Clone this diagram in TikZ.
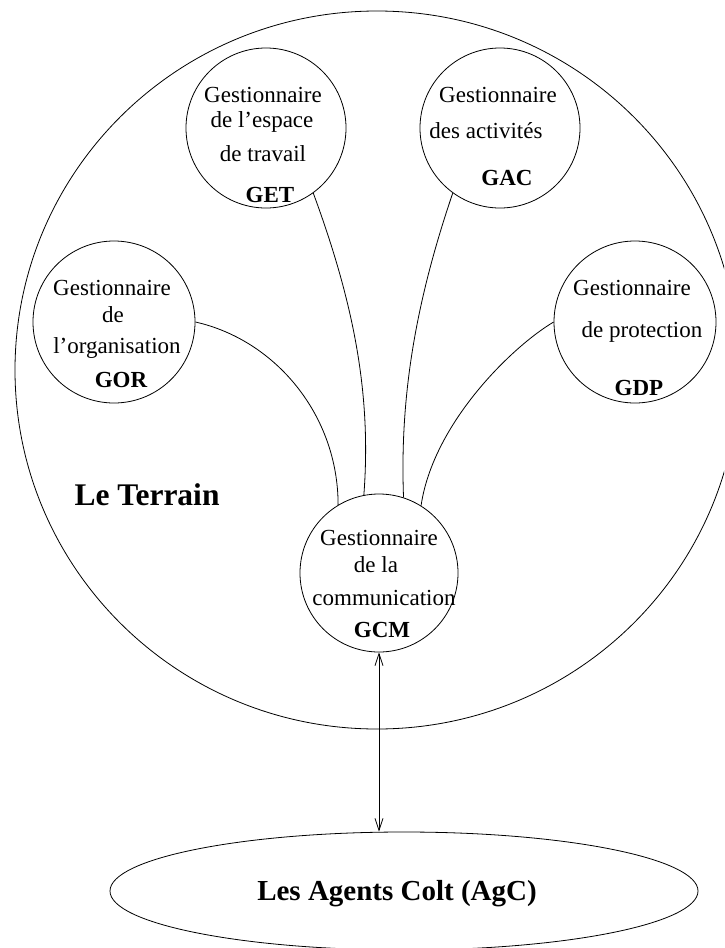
\documentclass[tikz,border=0pt]{standalone}
\usepackage{fontspec}
\setmainfont{Liberation Serif}
\usetikzlibrary{shapes.geometric,arrows.meta}

\tikzset{
  manager/.style={circle, draw, inner sep=0pt, minimum size=#1},
  txt/.style={anchor=base, inner sep=0pt, font=\fontsize{23}{27}\selectfont},
  abbr/.style={anchor=base, inner sep=0pt, font=\fontsize{23}{27}\selectfont\bfseries},
}

\begin{document}
\begin{tikzpicture}[x=1pt, y=1pt, line width=0.8pt]
\useasboundingbox (0,0) rectangle (724,-948);
\clip (0,0) rectangle (724,-948);

% the field and the agents
\node[ellipse, draw, inner sep=0pt, minimum width=724pt, minimum height=718pt] (terrain) at (377,-370) {};
\node[ellipse, draw, inner sep=0pt, minimum width=588pt, minimum height=118pt] (agc) at (404,-891) {};

% managers
\node[manager=160pt] (get) at (266,-128) {};
\node[manager=160pt] (gac) at (500,-128) {};
\node[manager=162pt] (gor) at (114,-322) {};
\node[manager=162pt] (gdp) at (635,-322) {};
\node[manager=158pt] (gcm) at (379,-573) {};

% labels
\node[txt] (get1) at (263,-102) {Gestionnaire};
\node[txt] (get2) at (262,-127) {de l'espace};
\node[txt] (get3) at (263,-161) {de travail};
\node[abbr] (get4) at (270,-202) {GET};

\node[txt] (gac1) at (498,-102) {Gestionnaire};
\node[txt] (gac2) at (486,-138) {des activités};
\node[abbr] (gac3) at (507,-185) {GAC};

\node[txt] (gor1) at (112,-295) {Gestionnaire};
\node[txt] (gor2) at (113,-322) {de};
\node[txt] (gor3) at (117,-353) {l'organisation};
\node[abbr] (gor4) at (121,-387) {GOR};

\node[txt] (gdp1) at (632,-295) {Gestionnaire};
\node[txt] (gdp2) at (642,-337) {de protection};
\node[abbr] (gdp3) at (639,-395) {GDP};

\node[txt] (gcm1) at (379,-545) {Gestionnaire};
\node[txt] (gcm2) at (376,-572) {de la};
\node[txt] (gcm3) at (384,-605) {communication};
\node[abbr] (gcm4) at (382,-637) {GCM};

\node[anchor=base, inner sep=0pt, font=\fontsize{31.5}{36}\selectfont\bfseries] (lbl) at (147,-505) {Le Terrain};
\node[anchor=base, inner sep=0pt, font=\fontsize{29}{34}\selectfont\bfseries] (agclbl) at (397,-900) {Les Agents Colt (AgC)};

% links between the managers
\draw (gor.east) .. controls +(80,-18) and +(0,90) .. (gcm.121);
\draw (get.-54) .. controls +(39,-106) and +(8,104) .. (gcm.101);
\draw (gac.-126) .. controls +(-36,-106) and +(-4,104) .. (gcm.72);
\draw (gdp.west) .. controls +(-42,-25) and +(12,82) .. (gcm.58);

% exchange with the agents
\draw[{Straight Barb[length=12pt,width=8pt]}-{Straight Barb[length=12pt,width=8pt]}]
  (gcm.south) -- (gcm.south |- agc.north);
\end{tikzpicture}
\end{document}
